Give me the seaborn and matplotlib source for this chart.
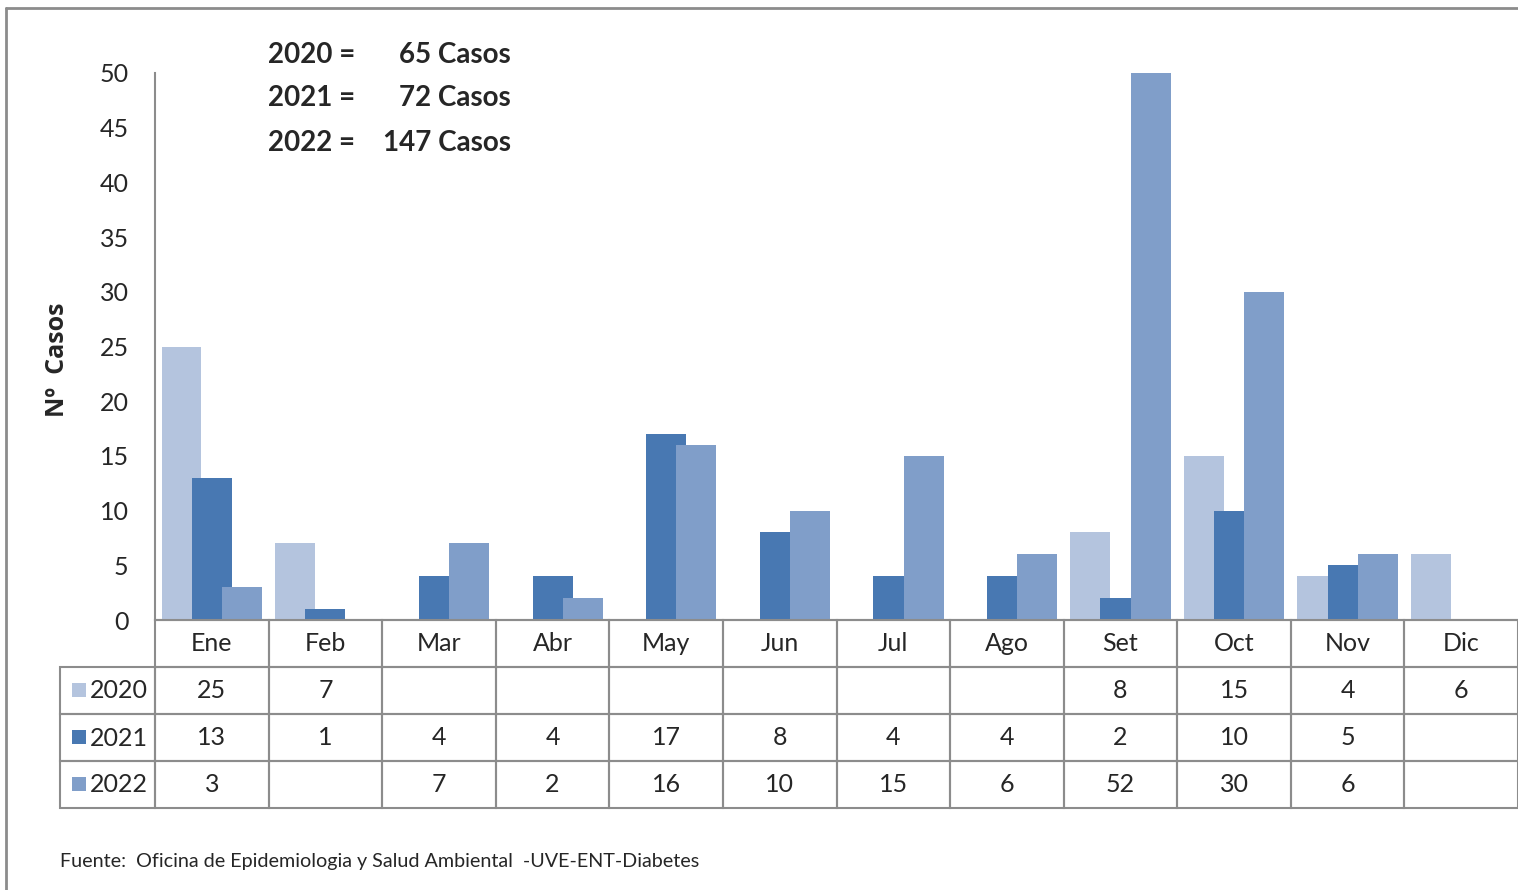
import numpy as np
import pandas as pd
import matplotlib
matplotlib.use("Agg")
import matplotlib.pyplot as plt
from matplotlib.patches import Rectangle
from matplotlib.lines import Line2D
import seaborn as sns

# datos
meses = ["Ene", "Feb", "Mar", "Abr", "May", "Jun", "Jul", "Ago", "Set", "Oct", "Nov", "Dic"]
anios = ["2020", "2021", "2022"]
casos_2020 = [25, 7, np.nan, np.nan, np.nan, np.nan, np.nan, np.nan, 8, 15, 4, 6]
casos_2021 = [13, 1, 4, 4, 17, 8, 4, 4, 2, 10, 5, np.nan]
casos_2022 = [3, np.nan, 7, 2, 16, 10, 15, 6, 52, 30, 6, np.nan]
totales = [65, 72, 147]
colores = ["#b4c4de", "#4878b2", "#809ec9"]

W, H = 1518, 890

df = pd.DataFrame({
    "Mes": meses * 3,
    "Anio": [a for a in anios for _ in meses],
    "Casos": casos_2020 + casos_2021 + casos_2022,
})
df_bars = df.dropna()

sns.set_style("white")
plt.rcParams["font.family"] = ["Lato", "DejaVu Sans"]

fig = plt.figure(figsize=(W / 100, H / 100), dpi=100)
ax = fig.add_axes([155 / W, (H - 620) / H, (W - 155) / W, (620 - 73) / H])

sns.barplot(data=df_bars, x="Mes", y="Casos", hue="Anio", order=meses, hue_order=anios,
            palette=colores, width=0.8, errorbar=None, linewidth=0, saturation=1,
            legend=False, ax=ax)

# barras solapadas como en Excel
for p in ax.patches:
    c = p.get_x() + p.get_width() / 2
    w = p.get_width() * 1.32
    p.set_x(c - w / 2)
    p.set_width(w)

ax.set_ylim(0, 50)
ax.set_xlim(-0.5, 11.5)
ax.set_yticks(range(0, 51, 5))
ax.tick_params(axis="y", length=0, pad=19, labelsize=18)
ax.set_xticks([])
ax.set_xlabel("")
ax.set_ylabel("")
for s in ["top", "right"]:
    ax.spines[s].set_visible(False)
ax.spines["left"].set_color("#8c8c8c")
ax.spines["left"].set_linewidth(1.5)
ax.spines["bottom"].set_color("#8c8c8c")
ax.spines["bottom"].set_linewidth(1.5)

fig.text(57 / W, 1 - 360 / H, "Nº  Casos", rotation=90, ha="center", va="center",
         fontsize=18, fontweight="bold", family=["Open Sans", "DejaVu Sans"])

# tabla de datos
def fmt(v):
    return "" if np.isnan(v) else str(int(v))

filas = [[""] + meses]
for a, serie in zip(anios, [casos_2020, casos_2021, casos_2022]):
    filas.append([""] + [fmt(v) for v in serie])

anchos = [95] + [(W - 155) / 12] * 12
tot = sum(anchos)
ancho_ax = W - 155
tabla = ax.table(cellText=filas, colWidths=[a / tot for a in anchos], cellLoc="center",
                 bbox=[-95 / ancho_ax, -188 / 547, tot / ancho_ax, 188 / 547])
tabla.auto_set_font_size(False)
tabla.set_fontsize(18)
for (r, c), cell in tabla.get_celld().items():
    cell.set_edgecolor("#8c8c8c")
    cell.set_linewidth(1.5)
    cell.set_facecolor("none")
    if r == 0 and c == 0:
        cell.visible_edges = ""

# etiquetas de fila con cuadritos de leyenda
for i, (a, col) in enumerate(zip(anios, colores)):
    yc = 690 + i * 47
    fig.add_artist(Rectangle((72 / W, 1 - (yc + 7) / H), 14 / W, 14 / H,
                             transform=fig.transFigure, color=col, lw=0))
    fig.text(148 / W, 1 - (yc + 1) / H, a, ha="right", va="center", fontsize=18)

# totales anuales
for i, (a, t) in enumerate(zip(anios, totales)):
    yy = [55, 98, 143][i]
    fig.text(268 / W, 1 - yy / H, f"{a} =", ha="left", va="center", fontsize=20, fontweight="bold")
    fig.text(511 / W, 1 - yy / H, f"{t} Casos", ha="right", va="center", fontsize=20, fontweight="bold")

fig.text(60 / W, 1 - 862 / H, "Fuente:  Oficina de Epidemiologia y Salud Ambiental  -UVE-ENT-Diabetes",
         ha="left", va="center", fontsize=14.2)

# marco del grafico
fig.add_artist(Line2D([6 / W, 1], [1 - 8 / H, 1 - 8 / H], transform=fig.transFigure, color="#8c8c8c", lw=2))
fig.add_artist(Line2D([6 / W, 6 / W], [0, 1 - 8 / H], transform=fig.transFigure, color="#8c8c8c", lw=2))

fig.savefig("out.png", dpi=100)
